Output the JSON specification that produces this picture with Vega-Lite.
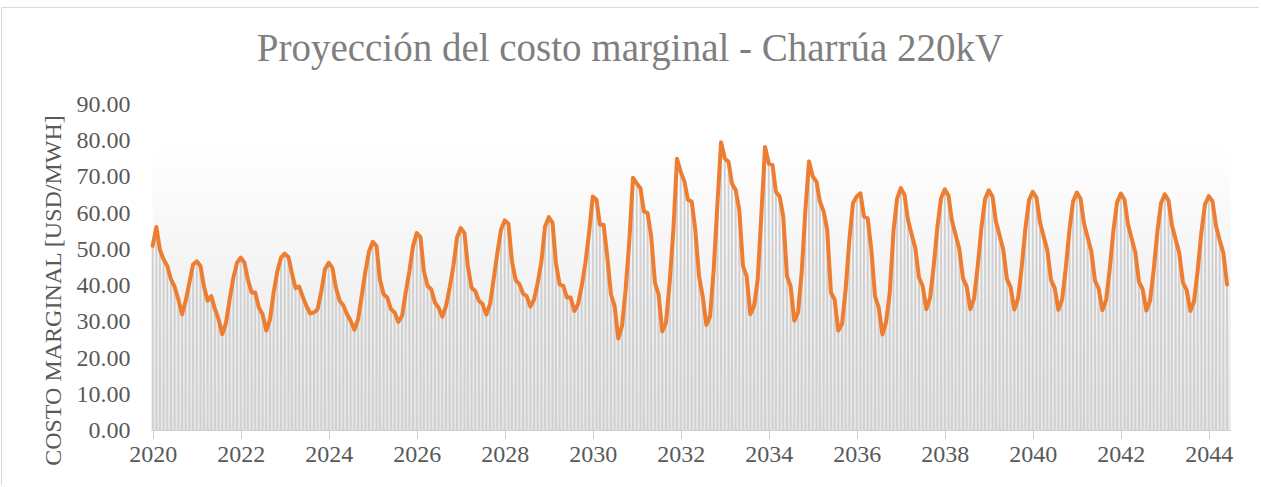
{
"$schema": "https://vega.github.io/schema/vega-lite/v6.json",
"autosize": "none",
"padding": {"left": 1, "top": 7, "right": 0, "bottom": 0},
"width": 1258,
"height": 478,
"background": "white",
"config": {"view": {"stroke": "#d9d9d9", "strokeWidth": 1}, "font": "Liberation Serif"},
"title": {"text": "Proyección del costo marginal - Charrúa 220kV", "font": "Liberation Serif", "fontSize": 39, "fontWeight": "normal", "color": "#7f7f7f", "anchor": "middle", "baseline": "alphabetic", "offset": -93},
"datasets": {"cm": [
{"d":"2020-01-01","v":51.0},{"d":"2020-02-01","v":56.2},{"d":"2020-03-01","v":49.9},{"d":"2020-04-01","v":47.2},{"d":"2020-05-01","v":45.4},{"d":"2020-06-01","v":41.7},{"d":"2020-07-01","v":39.7},{"d":"2020-08-01","v":36.2},{"d":"2020-09-01","v":32.1},{"d":"2020-10-01","v":35.8},{"d":"2020-11-01","v":40.8},{"d":"2020-12-01","v":45.8},
{"d":"2021-01-01","v":46.7},{"d":"2021-02-01","v":45.4},{"d":"2021-03-01","v":39.9},{"d":"2021-04-01","v":35.8},{"d":"2021-05-01","v":37.1},{"d":"2021-06-01","v":33.5},{"d":"2021-07-01","v":30.7},{"d":"2021-08-01","v":26.6},{"d":"2021-09-01","v":29.8},{"d":"2021-10-01","v":36.2},{"d":"2021-11-01","v":42.2},{"d":"2021-12-01","v":46.3},
{"d":"2022-01-01","v":47.7},{"d":"2022-02-01","v":46.3},{"d":"2022-03-01","v":41.7},{"d":"2022-04-01","v":38.1},{"d":"2022-05-01","v":38.1},{"d":"2022-06-01","v":33.9},{"d":"2022-07-01","v":32.1},{"d":"2022-08-01","v":27.6},{"d":"2022-09-01","v":30.7},{"d":"2022-10-01","v":38.1},{"d":"2022-11-01","v":44.0},{"d":"2022-12-01","v":47.7},
{"d":"2023-01-01","v":48.8},{"d":"2023-02-01","v":47.9},{"d":"2023-03-01","v":43.5},{"d":"2023-04-01","v":39.3},{"d":"2023-05-01","v":39.7},{"d":"2023-06-01","v":36.8},{"d":"2023-07-01","v":34.3},{"d":"2023-08-01","v":32.3},{"d":"2023-09-01","v":32.6},{"d":"2023-10-01","v":33.5},{"d":"2023-11-01","v":38.5},{"d":"2023-12-01","v":44.5},
{"d":"2024-01-01","v":46.3},{"d":"2024-02-01","v":44.9},{"d":"2024-03-01","v":39.4},{"d":"2024-04-01","v":35.8},{"d":"2024-05-01","v":34.6},{"d":"2024-06-01","v":32.1},{"d":"2024-07-01","v":30.3},{"d":"2024-08-01","v":27.8},{"d":"2024-09-01","v":30.7},{"d":"2024-10-01","v":37.1},{"d":"2024-11-01","v":44.0},{"d":"2024-12-01","v":49.5},
{"d":"2025-01-01","v":52.1},{"d":"2025-02-01","v":50.9},{"d":"2025-03-01","v":41.7},{"d":"2025-04-01","v":37.6},{"d":"2025-05-01","v":36.7},{"d":"2025-06-01","v":33.5},{"d":"2025-07-01","v":32.6},{"d":"2025-08-01","v":30.0},{"d":"2025-09-01","v":31.6},{"d":"2025-10-01","v":38.1},{"d":"2025-11-01","v":44.0},{"d":"2025-12-01","v":50.9},
{"d":"2026-01-01","v":54.5},{"d":"2026-02-01","v":53.4},{"d":"2026-03-01","v":44.0},{"d":"2026-04-01","v":39.9},{"d":"2026-05-01","v":39.0},{"d":"2026-06-01","v":35.3},{"d":"2026-07-01","v":33.9},{"d":"2026-08-01","v":31.4},{"d":"2026-09-01","v":34.4},{"d":"2026-10-01","v":39.4},{"d":"2026-11-01","v":45.4},{"d":"2026-12-01","v":53.2},
{"d":"2027-01-01","v":55.9},{"d":"2027-02-01","v":54.5},{"d":"2027-03-01","v":45.4},{"d":"2027-04-01","v":39.4},{"d":"2027-05-01","v":38.5},{"d":"2027-06-01","v":35.8},{"d":"2027-07-01","v":34.9},{"d":"2027-08-01","v":32.0},{"d":"2027-09-01","v":34.9},{"d":"2027-10-01","v":41.7},{"d":"2027-11-01","v":49.0},{"d":"2027-12-01","v":55.4},
{"d":"2028-01-01","v":58.0},{"d":"2028-02-01","v":57.1},{"d":"2028-03-01","v":46.7},{"d":"2028-04-01","v":41.5},{"d":"2028-05-01","v":40.5},{"d":"2028-06-01","v":37.8},{"d":"2028-07-01","v":37.1},{"d":"2028-08-01","v":34.2},{"d":"2028-09-01","v":36.2},{"d":"2028-10-01","v":40.8},{"d":"2028-11-01","v":46.7},{"d":"2028-12-01","v":56.3},
{"d":"2029-01-01","v":58.9},{"d":"2029-02-01","v":57.3},{"d":"2029-03-01","v":46.3},{"d":"2029-04-01","v":40.3},{"d":"2029-05-01","v":39.9},{"d":"2029-06-01","v":36.7},{"d":"2029-07-01","v":36.7},{"d":"2029-08-01","v":33.0},{"d":"2029-09-01","v":34.9},{"d":"2029-10-01","v":39.9},{"d":"2029-11-01","v":46.3},{"d":"2029-12-01","v":54.5},
{"d":"2030-01-01","v":64.6},{"d":"2030-02-01","v":63.7},{"d":"2030-03-01","v":56.8},{"d":"2030-04-01","v":56.8},{"d":"2030-05-01","v":48.1},{"d":"2030-06-01","v":37.6},{"d":"2030-07-01","v":34.4},{"d":"2030-08-01","v":25.4},{"d":"2030-09-01","v":28.9},{"d":"2030-10-01","v":39.0},{"d":"2030-11-01","v":52.7},{"d":"2030-12-01","v":69.8},
{"d":"2031-01-01","v":68.2},{"d":"2031-02-01","v":66.9},{"d":"2031-03-01","v":60.5},{"d":"2031-04-01","v":60.0},{"d":"2031-05-01","v":53.6},{"d":"2031-06-01","v":40.8},{"d":"2031-07-01","v":37.6},{"d":"2031-08-01","v":27.3},{"d":"2031-09-01","v":29.8},{"d":"2031-10-01","v":40.8},{"d":"2031-11-01","v":55.4},{"d":"2031-12-01","v":75.0},
{"d":"2032-01-01","v":71.4},{"d":"2032-02-01","v":68.7},{"d":"2032-03-01","v":63.7},{"d":"2032-04-01","v":63.2},{"d":"2032-05-01","v":55.4},{"d":"2032-06-01","v":42.6},{"d":"2032-07-01","v":37.1},{"d":"2032-08-01","v":29.1},{"d":"2032-09-01","v":31.6},{"d":"2032-10-01","v":44.5},{"d":"2032-11-01","v":62.8},{"d":"2032-12-01","v":79.6},
{"d":"2033-01-01","v":75.1},{"d":"2033-02-01","v":74.2},{"d":"2033-03-01","v":68.2},{"d":"2033-04-01","v":66.4},{"d":"2033-05-01","v":60.9},{"d":"2033-06-01","v":45.4},{"d":"2033-07-01","v":42.6},{"d":"2033-08-01","v":32.1},{"d":"2033-09-01","v":34.4},{"d":"2033-10-01","v":41.7},{"d":"2033-11-01","v":60.0},{"d":"2033-12-01","v":78.3},
{"d":"2034-01-01","v":73.7},{"d":"2034-02-01","v":73.3},{"d":"2034-03-01","v":65.9},{"d":"2034-04-01","v":64.6},{"d":"2034-05-01","v":59.1},{"d":"2034-06-01","v":42.6},{"d":"2034-07-01","v":39.9},{"d":"2034-08-01","v":30.3},{"d":"2034-09-01","v":32.6},{"d":"2034-10-01","v":43.6},{"d":"2034-11-01","v":60.9},{"d":"2034-12-01","v":74.3},
{"d":"2035-01-01","v":70.1},{"d":"2035-02-01","v":68.7},{"d":"2035-03-01","v":63.2},{"d":"2035-04-01","v":60.5},{"d":"2035-05-01","v":55.4},{"d":"2035-06-01","v":38.1},{"d":"2035-07-01","v":36.2},{"d":"2035-08-01","v":27.6},{"d":"2035-09-01","v":29.4},{"d":"2035-10-01","v":39.0},{"d":"2035-11-01","v":52.7},{"d":"2035-12-01","v":62.8},
{"d":"2036-01-01","v":64.6},{"d":"2036-02-01","v":65.5},{"d":"2036-03-01","v":59.1},{"d":"2036-04-01","v":58.6},{"d":"2036-05-01","v":50.0},{"d":"2036-06-01","v":37.0},{"d":"2036-07-01","v":34.0},{"d":"2036-08-01","v":26.5},{"d":"2036-09-01","v":30.0},{"d":"2036-10-01","v":38.0},{"d":"2036-11-01","v":55.0},{"d":"2036-12-01","v":64.0},
{"d":"2037-01-01","v":66.9},{"d":"2037-02-01","v":65.0},{"d":"2037-03-01","v":58.2},{"d":"2037-04-01","v":54.1},{"d":"2037-05-01","v":50.4},{"d":"2037-06-01","v":42.2},{"d":"2037-07-01","v":39.9},{"d":"2037-08-01","v":33.5},{"d":"2037-09-01","v":36.7},{"d":"2037-10-01","v":45.4},{"d":"2037-11-01","v":56.3},{"d":"2037-12-01","v":64.1},
{"d":"2038-01-01","v":66.6},{"d":"2038-02-01","v":64.8},{"d":"2038-03-01","v":58.0},{"d":"2038-04-01","v":54.0},{"d":"2038-05-01","v":50.2},{"d":"2038-06-01","v":42.0},{"d":"2038-07-01","v":39.8},{"d":"2038-08-01","v":33.5},{"d":"2038-09-01","v":36.5},{"d":"2038-10-01","v":45.2},{"d":"2038-11-01","v":56.0},{"d":"2038-12-01","v":63.9},
{"d":"2039-01-01","v":66.3},{"d":"2039-02-01","v":64.6},{"d":"2039-03-01","v":57.8},{"d":"2039-04-01","v":53.8},{"d":"2039-05-01","v":50.0},{"d":"2039-06-01","v":41.8},{"d":"2039-07-01","v":39.6},{"d":"2039-08-01","v":33.4},{"d":"2039-09-01","v":36.4},{"d":"2039-10-01","v":45.0},{"d":"2039-11-01","v":55.8},{"d":"2039-12-01","v":63.6},
{"d":"2040-01-01","v":65.9},{"d":"2040-02-01","v":64.3},{"d":"2040-03-01","v":57.5},{"d":"2040-04-01","v":53.5},{"d":"2040-05-01","v":49.8},{"d":"2040-06-01","v":41.5},{"d":"2040-07-01","v":39.4},{"d":"2040-08-01","v":33.3},{"d":"2040-09-01","v":36.2},{"d":"2040-10-01","v":44.8},{"d":"2040-11-01","v":55.5},{"d":"2040-12-01","v":63.3},
{"d":"2041-01-01","v":65.7},{"d":"2041-02-01","v":64.0},{"d":"2041-03-01","v":57.2},{"d":"2041-04-01","v":53.3},{"d":"2041-05-01","v":49.5},{"d":"2041-06-01","v":41.3},{"d":"2041-07-01","v":39.2},{"d":"2041-08-01","v":33.2},{"d":"2041-09-01","v":36.0},{"d":"2041-10-01","v":44.6},{"d":"2041-11-01","v":55.3},{"d":"2041-12-01","v":63.0},
{"d":"2042-01-01","v":65.4},{"d":"2042-02-01","v":63.7},{"d":"2042-03-01","v":57.0},{"d":"2042-04-01","v":53.0},{"d":"2042-05-01","v":49.3},{"d":"2042-06-01","v":41.0},{"d":"2042-07-01","v":39.0},{"d":"2042-08-01","v":33.1},{"d":"2042-09-01","v":35.9},{"d":"2042-10-01","v":44.4},{"d":"2042-11-01","v":55.0},{"d":"2042-12-01","v":62.8},
{"d":"2043-01-01","v":65.2},{"d":"2043-02-01","v":63.5},{"d":"2043-03-01","v":56.7},{"d":"2043-04-01","v":52.8},{"d":"2043-05-01","v":49.0},{"d":"2043-06-01","v":40.8},{"d":"2043-07-01","v":38.8},{"d":"2043-08-01","v":33.0},{"d":"2043-09-01","v":35.7},{"d":"2043-10-01","v":44.2},{"d":"2043-11-01","v":54.8},{"d":"2043-12-01","v":62.5},
{"d":"2044-01-01","v":64.7},{"d":"2044-02-01","v":63.3},{"d":"2044-03-01","v":56.5},{"d":"2044-04-01","v":52.5},{"d":"2044-05-01","v":49.0},{"d":"2044-06-01","v":40.3}
]},
"layer": [
{
"data": {"values": [{"k": "bg"}]},
"mark": {"type": "rect", "color": {"gradient": "linear", "x1": 0, "y1": 0, "x2": 0, "y2": 1, "stops": [{"offset": 0, "color": "#ffffff"}, {"offset": 1, "color": "#e6e6e6"}]}},
"encoding": {
"x": {"datum": {"year": 2020, "month": 1, "date": 1, "utc": true}, "type": "temporal",
"scale": {"type": "utc", "domain": [{"year": 2016, "month": 7, "date": 21, "utc": true}, {"year": 2045, "month": 2, "date": 21, "utc": true}], "nice": false},
"axis": {"values": [{"year": 2020, "month": 1, "date": 1, "utc": true}, {"year": 2022, "month": 1, "date": 1, "utc": true}, {"year": 2024, "month": 1, "date": 1, "utc": true}, {"year": 2026, "month": 1, "date": 1, "utc": true}, {"year": 2028, "month": 1, "date": 1, "utc": true}, {"year": 2030, "month": 1, "date": 1, "utc": true}, {"year": 2032, "month": 1, "date": 1, "utc": true}, {"year": 2034, "month": 1, "date": 1, "utc": true}, {"year": 2036, "month": 1, "date": 1, "utc": true}, {"year": 2038, "month": 1, "date": 1, "utc": true}, {"year": 2040, "month": 1, "date": 1, "utc": true}, {"year": 2042, "month": 1, "date": 1, "utc": true}, {"year": 2044, "month": 1, "date": 1, "utc": true}],
"format": "%Y", "title": null, "domain": false, "grid": false, "ticks": true, "tickColor": "#d0d0d0", "tickSize": 8, "labelFont": "Liberation Serif", "labelFontSize": 24, "labelColor": "#595959", "labelPadding": 4, "offset": -54.5, "labelFlush": false, "labelOverlap": false}},
"x2": {"datum": {"year": 2044, "month": 7, "date": 1, "utc": true}},
"y": {"datum": 0, "type": "quantitative",
"scale": {"domain": [-15.05, 116.92], "nice": false, "zero": false},
"axis": {"values": [0, 10, 20, 30, 40, 50, 60, 70, 80, 90], "format": ".2f", "domain": false, "grid": false, "ticks": false, "labelFont": "Liberation Serif", "labelFontSize": 24, "labelColor": "#595959", "labelPadding": 10, "offset": -139,
"title": "COSTO MARGINAL [USD/MWH]", "titleFont": "Liberation Serif", "titleFontSize": 24, "titleFontWeight": "normal", "titleColor": "#595959", "titleX": -80, "titleY": 283, "titleAlign": "center", "titleBaseline": "alphabetic", "labelOverlap": false}},
"y2": {"datum": 79.5}
}
},
{
"data": {"name": "cm"},
"mark": {"type": "rule", "color": "#d0d0d0", "strokeWidth": 2},
"encoding": {
"x": {"field": "d", "type": "temporal"},
"y": {"field": "v", "type": "quantitative"},
"y2": {"datum": 0}
}
},
{
"data": {"values": [{"k": "base"}]},
"mark": {"type": "rule", "color": "#d0d0d0", "strokeWidth": 1},
"encoding": {
"x": {"datum": {"year": 2020, "month": 1, "date": 1, "utc": true}, "type": "temporal"},
"x2": {"datum": {"year": 2044, "month": 7, "date": 1, "utc": true}},
"y": {"datum": 0, "type": "quantitative"}
}
},
{
"data": {"name": "cm"},
"mark": {"type": "line", "color": "#ED7D31", "strokeWidth": 4, "strokeJoin": "round", "strokeCap": "round"},
"encoding": {
"x": {"field": "d", "type": "temporal"},
"y": {"field": "v", "type": "quantitative"}
}
}
]
}
